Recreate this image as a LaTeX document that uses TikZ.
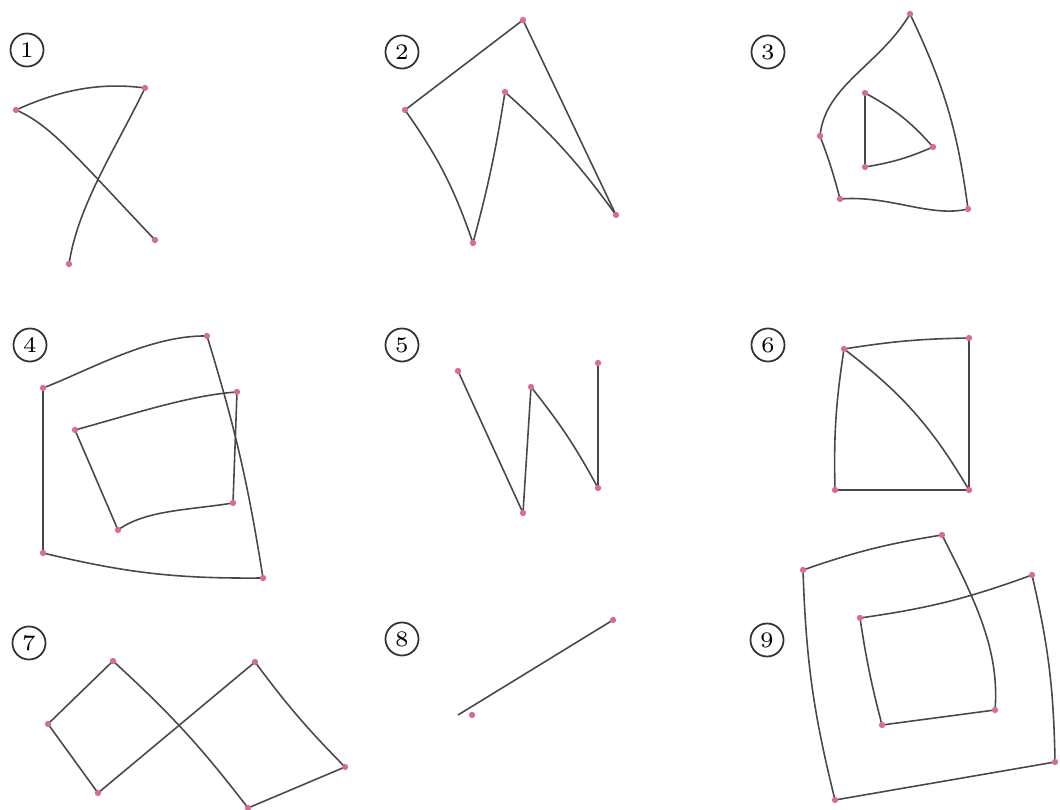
\documentclass[tikz,border=0pt]{standalone}
\begin{document}
\begin{tikzpicture}[x=0.01cm,y=-0.01cm,
  edge/.style={draw={rgb,255:red,72;green,72;blue,72},line width=0.45pt},
  lbl/.style={circle,draw={rgb,255:red,50;green,50;blue,50},line width=0.5pt,inner sep=0pt,minimum size=9.4pt,font=\fontsize{6.3}{7}\selectfont},
  dotc/.style={fill={rgb,255:red,214;green,110;blue,146}}]
\useasboundingbox (0,0) rectangle (1060,810);
% labels
\node[lbl] (l1) at (27,50) {1};
\node[lbl] (l2) at (402,52) {2};
\node[lbl] (l3) at (768,52) {3};
\node[lbl] (l4) at (30,345) {4};
\node[lbl] (l5) at (402,345) {5};
\node[lbl] (l6) at (768,345) {6};
\node[lbl] (l7) at (29,643) {7};
\node[lbl] (l8) at (402,639) {8};
\node[lbl] (l9) at (767,640) {9};
% panel 1
\coordinate (a1) at (16,110);
\coordinate (a2) at (145,88);
\coordinate (a3) at (155,240);
\coordinate (a4) at (69,264);
\draw[edge] (a1) .. controls (60,90) and (100,82) .. (a2);
\draw[edge] (a1) .. controls (50,125) and (70,150) .. (a3);
\draw[edge] (a2) .. controls (115,150) and (78,205) .. (a4);
% panel 2
\coordinate (b1) at (523,20);
\coordinate (b2) at (405,110);
\coordinate (b3) at (473,243);
\coordinate (b4) at (505,92);
\coordinate (b5) at (616,215);
\draw[edge] (b1) -- (b2);
\draw[edge] (b2) to[bend left=8] (b3);
\draw[edge] (b3) to[bend right=3] (b4);
\draw[edge] (b4) to[bend left=6] (b5);
\draw[edge] (b5) -- (b1);
% panel 3
\coordinate (c1) at (910,14);
\coordinate (c2) at (820,136);
\coordinate (c3) at (840,199);
\coordinate (c4) at (968,209);
\coordinate (d1) at (865,93);
\coordinate (d2) at (865,167);
\coordinate (d3) at (933,147);
\draw[edge] (c1) .. controls (880,65) and (825,85) .. (c2);
\draw[edge] (c1) to[bend left=9] (c4);
\draw[edge] (c2) to[bend left=3] (c3);
\draw[edge] (c3) .. controls (890,195) and (930,218) .. (c4);
\draw[edge] (d1) -- (d2);
\draw[edge] (d1) to[bend left=10] (d3);
\draw[edge] (d2) to[bend right=7] (d3);
% panel 4
\coordinate (e1) at (43,388);
\coordinate (e2) at (207,336);
\coordinate (e3) at (263,578);
\coordinate (e4) at (43,553);
\coordinate (f1) at (75,430);
\coordinate (f2) at (237,392);
\coordinate (f3) at (233,503);
\coordinate (f4) at (118,530);
\draw[edge] (e1) .. controls (90,370) and (150,335) .. (e2);
\draw[edge] (e2) to[bend left=4] (e3);
\draw[edge] (e3) to[bend left=7] (e4);
\draw[edge] (e4) -- (e1);
\draw[edge] (f1) .. controls (130,415) and (190,395) .. (f2);
\draw[edge] (f2) -- (f3);
\draw[edge] (f3) .. controls (190,510) and (145,510) .. (f4);
\draw[edge] (f4) -- (f1);
% panel 5
\coordinate (q1) at (458,371);
\coordinate (q2) at (523,513);
\coordinate (q3) at (531,387);
\coordinate (q4) at (598,488);
\coordinate (q5) at (598,363);
\draw[edge] (q1) -- (q2);
\draw[edge] (q2) -- (q3);
\draw[edge] (q3) to[bend left=5] (q4);
\draw[edge] (q4) -- (q5);
% panel 6
\coordinate (s1) at (844,349);
\coordinate (s2) at (969,338);
\coordinate (s3) at (969,490);
\coordinate (s4) at (835,490);
\draw[edge] (s1) to[bend left=4] (s2);
\draw[edge] (s2) -- (s3);
\draw[edge] (s3) -- (s4);
\draw[edge] (s4) to[bend left=5] (s1);
\draw[edge] (s1) to[bend left=11] (s3);
% panel 7
\coordinate (r1) at (113,661);
\coordinate (r2) at (48,724);
\coordinate (r3) at (98,793);
\coordinate (r4) at (255,662);
\coordinate (r5) at (345,767);
\coordinate (r6) at (248,808);
\draw[edge] (r1) -- (r2);
\draw[edge] (r2) -- (r3);
\draw[edge] (r3) -- (r4);
\draw[edge] (r4) to[bend right=4] (r5);
\draw[edge] (r5) -- (r6);
\draw[edge] (r6) to[bend right=5] (r1);
% panel 8
\coordinate (g1) at (613,620);
\coordinate (g0) at (458,715);
\coordinate (g2) at (472,715);
\draw[edge] (g1) -- (g0);
% panel 9
\coordinate (u1) at (803,570);
\coordinate (u2) at (942,535);
\coordinate (u3) at (1055,762);
\coordinate (u4) at (835,800);
\coordinate (v1) at (860,618);
\coordinate (v2) at (1032,575);
\coordinate (v3) at (995,710);
\coordinate (v4) at (882,725);
\draw[edge] (u1) to[bend left=5] (u2);
\draw[edge] (u2) .. controls (975,600) and (1000,650) .. (v3);
\draw[edge] (v3) -- (v4);
\draw[edge] (v4) to[bend left=3] (v1);
\draw[edge] (v1) to[bend right=6] (v2);
\draw[edge] (v2) to[bend left=6] (u3);
\draw[edge] (u3) -- (u4);
\draw[edge] (u4) to[bend left=6] (u1);
% dots
\foreach \p in {a1,a2,a3,a4,b1,b2,b3,b4,b5,c1,c2,c3,c4,d1,d2,d3,e1,e2,e3,e4,f1,f2,f3,f4,q1,q2,q3,q4,q5,s1,s2,s3,s4,r1,r2,r3,r4,r5,r6,g1,g2,u1,u2,u3,u4,v1,v2,v3,v4}
  \fill[dotc] (\p) circle (0.9pt);
\end{tikzpicture}
\end{document}
